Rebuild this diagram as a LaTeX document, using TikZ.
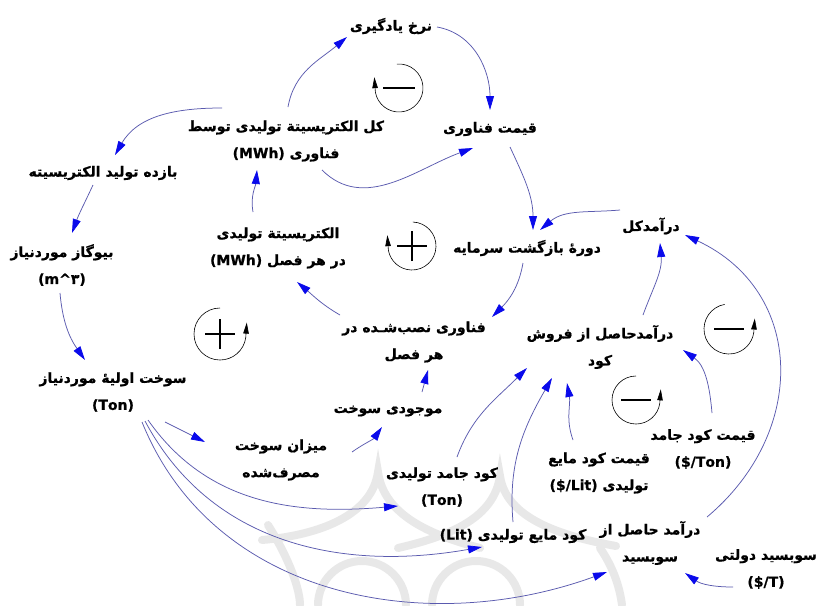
\documentclass[tikz,border=0pt]{standalone}
\usepackage{fontspec}
\usetikzlibrary{arrows.meta}
\TeXXeTstate=1
\newfontfamily\fa[Script=Arabic,BoldFeatures={FakeBold=0.8}]{DejaVu Sans}
\newcommand{\rl}[1]{\beginR #1\endR}
\newcommand{\ltr}[1]{\beginL #1\endL}
\definecolor{edgec}{RGB}{90,90,175}
\definecolor{tipc}{RGB}{10,10,235}
\tikzset{
  var/.style={font=\fa\bfseries\fontsize{14}{27}\selectfont, align=center, inner sep=0pt},
  lnk/.style={draw=edgec, line width=0.75pt, -{Triangle[length=14pt,width=8pt,color=tipc,fill=tipc]}},
  loopc/.style={draw=black, line width=0.6pt, -{Triangle[length=11pt,width=5.5pt]}},
  sgn/.style={draw=black, line width=1.9pt},
  wmark/.style={draw=black!9, line width=8pt, line cap=round}
}
\begin{document}
\begin{tikzpicture}[x=1pt,y=1pt]
\fill[white] (0,0) rectangle (821,-605);
\useasboundingbox (0,0) rectangle (821,-605);

% faint background watermark
\coordinate (W1) at (378,-472);
\coordinate (W2) at (500,-476);
\draw[wmark] (262,-540) .. controls (320,-535) and (372,-515) .. (W1) .. controls (384,-515) and (430,-535) .. (480,-548);
\draw[wmark] (398,-548) .. controls (450,-536) and (494,-518) .. (W2) .. controls (506,-518) and (560,-536) .. (616,-546);
\draw[wmark] (318,-605) arc[start angle=180,end angle=0,radius=44];
\draw[wmark] (432,-605) arc[start angle=180,end angle=0,radius=44];
\draw[wmark] (268,-525) .. controls (290,-560) and (300,-590) .. (300,-605);
\draw[wmark] (600,-548) .. controls (615,-570) and (620,-590) .. (622,-605);

% variables
\node[var] (A) at (391,-26)  {\rl{نرخ یادگیری}};
\node[var] (B) at (490,-129) {\rl{قیمت فناوری}};
\node[var] (C) at (286,-141) {\rl{کل الکتریسیتة تولیدی توسط}\\\rl{فناوری \ltr{(MWh)}}};
\node[var] (D) at (103,-173) {\rl{بازده تولید الکتریسیته}};
\node[var] (E) at (62,-265)  {\rl{بیوگاز موردنیاز}\\\ltr{(m\textasciicircum ۳)}};
\node[var] (F) at (113,-392) {\rl{سوخت اولیهٔ موردنیاز}\\\ltr{(Ton)}};
\node[var] (G) at (278,-248) {\rl{الکتریسیتة تولیدی}\\\rl{در هر فصل \ltr{(MWh)}}};
\node[var] (H) at (527,-248) {\rl{دورهٔ بازگشت سرمایه}};
\node[var] (I) at (651,-226) {\rl{درآمدکل}};
\node[var] (J) at (414,-342) {\rl{فناوری نصب‌شـده در}\\\rl{هر فصل}};
\node[var] (K) at (600,-347) {\rl{درآمدحاصل از فروش}\\\rl{کود}};
\node[var] (L) at (388,-411) {\rl{موجودی سوخت}};
\node[var] (M) at (281,-460) {\rl{میزان سوخت}\\\rl{مصرف‌شده}};
\node[var] (N) at (442,-487) {\rl{کود جامد تولیدی}\\\ltr{(Ton)}};
\node[var] (O) at (513,-536) {\rl{کود مایع تولیدی \ltr{(Lit)}}};
\node[var] (P) at (599,-473) {\rl{قیمت کود مایع}\\\rl{تولیدی \ltr{(\$/Lit)}}};
\node[var] (Q) at (703,-449) {\rl{قیمت کود جامد}\\\ltr{(\$/Ton)}};
\node[var] (R) at (650,-543) {\rl{درآمد حاصل از}\\\rl{سوبسید}};
\node[var] (S) at (766,-569) {\rl{سوبسید دولتی}\\\ltr{(\$/T)}};

% causal links
\draw[lnk] ([shift={(2,34)}]C.center) to[out=80,in=220] ([shift={(-44,-11)}]A.center);
\draw[lnk] ([shift={(46,-1)}]A.center) to[out=-10,in=90] ([shift={(0,19)}]B.center);
\draw[lnk] ([shift={(36,-29)}]C.center) to[out=-45,in=200] ([shift={(-17,-19)}]B.center);
\draw[lnk] ([shift={(20,-18)}]B.center) to[out=-65,in=90] ([shift={(6,18)}]H.center);
\draw[lnk] ([shift={(-31,16)}]I.center) to[out=185,in=40] ([shift={(13,18)}]H.center);
\draw[lnk] ([shift={(-4,-15)}]H.center) to[out=-100,in=45] ([shift={(78,25)}]J.center);
\draw[lnk] ([shift={(-74,27)}]J.center) to[out=150,in=-40] ([shift={(19,-34)}]G.center);
\draw[lnk] ([shift={(-25,36)}]G.center) to[out=100,in=-95] ([shift={(-29,-29)}]C.center);
\draw[lnk] ([shift={(-64,33)}]C.center) to[out=180,in=60] ([shift={(12,18)}]D.center);
\draw[lnk] ([shift={(-10,-12)}]D.center) to[out=-115,in=70] ([shift={(10,32)}]E.center);
\draw[lnk] ([shift={(-2,-28)}]E.center) to[out=-85,in=125] ([shift={(-28,32)}]F.center);
\draw[lnk] ([shift={(52,-30)}]F.center) -- ([shift={(-76,18)}]M.center);
\draw[lnk] ([shift={(71,8)}]M.center) to[out=35,in=235] ([shift={(-6,-16)}]L.center);
\draw[lnk] ([shift={(34,19)}]L.center) -- ([shift={(14,-28)}]J.center);
\draw[lnk] ([shift={(35,-28)}]F.center) to[out=-55,in=185] ([shift={(-44,-19)}]N.center);
\draw[lnk] ([shift={(32,-29)}]F.center) to[out=-62,in=190] ([shift={(-31,-11)}]O.center);
\draw[lnk] ([shift={(29,-30)}]F.center) to[out=-68,in=200] ([shift={(-43,-29)}]R.center);
\draw[lnk] ([shift={(15,30)}]N.center) to[out=70,in=225] ([shift={(-73,-21)}]K.center);
\draw[lnk] ([shift={(0,14)}]O.center) to[out=95,in=240] ([shift={(-48,-31)}]K.center);
\draw[lnk] ([shift={(-26,33)}]P.center) to[out=110,in=-80] ([shift={(-33,-36)}]K.center);
\draw[lnk] ([shift={(9,36)}]Q.center) to[out=95,in=-35] ([shift={(83,-3)}]K.center);
\draw[lnk] ([shift={(43,32)}]K.center) to[out=70,in=-85] ([shift={(9,-17)}]I.center);
\draw[lnk] ([shift={(57,26)}]R.center) to[out=40,in=-25,looseness=1.2] ([shift={(34,-9)}]I.center);
\draw[lnk] ([shift={(-33,-18)}]S.center) to[out=180,in=-35] ([shift={(35,-30)}]R.center);

% loop markers
\coordinate (L1) at (399,-88);
\coordinate (L2) at (412,-246);
\coordinate (L3) at (220,-334);
\coordinate (L4) at (729,-329);
\coordinate (L5) at (636,-400);
\draw[loopc] ([shift={(95:24)}]L1) arc[start angle=95,end angle=-170,radius=24] -- ++(-1,15);
\draw[sgn] ([xshift=-16]L1) -- ([xshift=16]L1);
\draw[loopc] ([shift={(88:24)}]L2) arc[start angle=88,end angle=-170,radius=24] -- ++(-1,15);
\draw[sgn] ([xshift=-15]L2) -- ([xshift=15]L2);
\draw[sgn] ([yshift=-15]L2) -- ([yshift=15]L2);
\draw[loopc] ([shift={(90:26)}]L3) arc[start angle=90,end angle=352,radius=26] -- ++(1,15);
\draw[sgn] ([xshift=-15]L3) -- ([xshift=15]L3);
\draw[sgn] ([yshift=-15]L3) -- ([yshift=15]L3);
\draw[loopc] ([shift={(100:25)}]L4) arc[start angle=100,end angle=352,radius=25] -- ++(1,14);
\draw[sgn] ([xshift=-15]L4) -- ([xshift=15]L4);
\draw[loopc] ([shift={(90:24)}]L5) arc[start angle=90,end angle=352,radius=24] -- ++(1,14);
\draw[sgn] ([xshift=-15]L5) -- ([xshift=15]L5);
\end{tikzpicture}
\end{document}
